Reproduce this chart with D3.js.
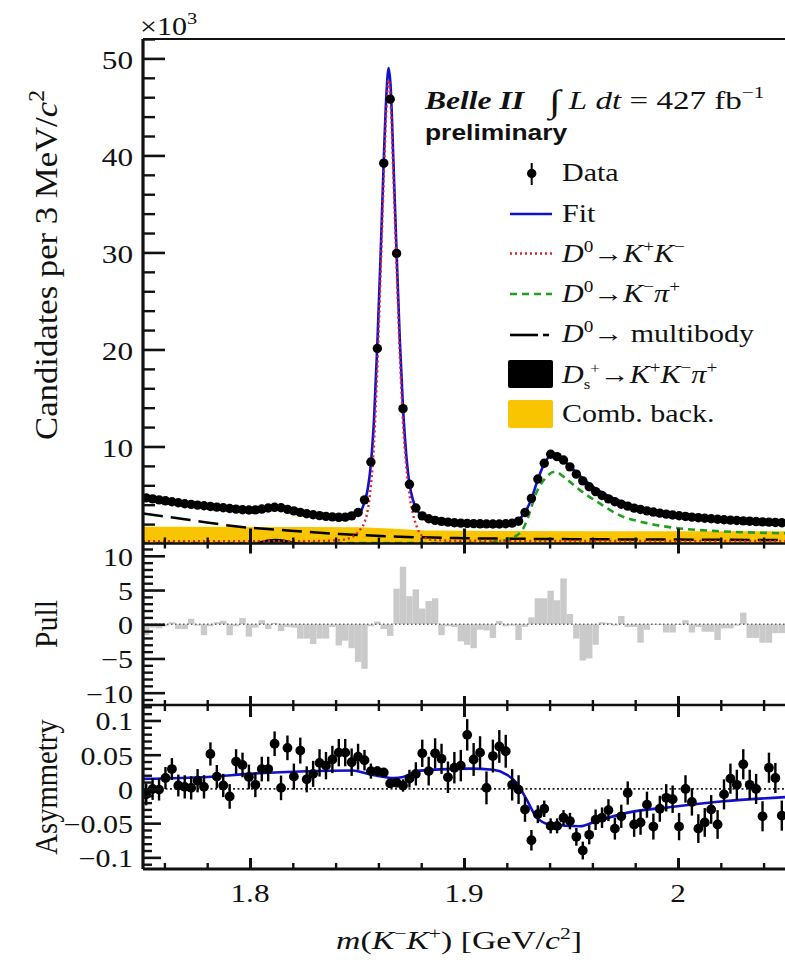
<!DOCTYPE html>
<html><head><meta charset="utf-8">
<script src="https://cdn.jsdelivr.net/npm/d3@7/dist/d3.min.js"></script>
<style>html,body{margin:0;padding:0;background:#fff;}svg{display:block;}</style>
</head><body>
<svg id="chart" width="785" height="965"></svg>
<script>
// ================= DATA =================
// histogram bin centres, m(K-K+) [GeV/c^2], 3 MeV bins
const binCenters = [
1.7515,1.7545,1.7575,1.7605,1.7635,1.7665,1.7695,1.7725,1.7755,1.7785,
1.7815,1.7845,1.7875,1.7905,1.7935,1.7965,1.7995,1.8025,1.8055,1.8085,
1.8115,1.8145,1.8175,1.8205,1.8235,1.8265,1.8295,1.8325,1.8355,1.8385,
1.8415,1.8445,1.8475,1.8505,1.8535,1.8565,1.8595,1.8625,1.8655,1.8685,
1.8715,1.8745,1.8775,1.8805,1.8835,1.8865,1.8895,1.8925,1.8955,1.8985,
1.9015,1.9045,1.9075,1.9105,1.9135,1.9165,1.9195,1.9225,1.9255,1.9285,
1.9315,1.9345,1.9375,1.9405,1.9435,1.9465,1.9495,1.9525,1.9555,1.9585,
1.9615,1.9645,1.9675,1.9705,1.9735,1.9765,1.9795,1.9825,1.9855,1.9885,
1.9915,1.9945,1.9975,2.0005,2.0035,2.0065,2.0095,2.0125,2.0155,2.0185,
2.0215,2.0245,2.0275,2.0305,2.0335,2.0365,2.0395,2.0425,2.0455,2.0485];
const binWidth = 0.003;

// candidates per bin (x10^3)
const candidates = [
4.7,4.6,4.5,4.4,4.3,4.2,4.1,4.03,3.96,3.89,
3.82,3.75,3.68,3.61,3.54,3.48,3.45,3.47,3.55,3.66,
3.73,3.68,3.52,3.36,3.21,3.07,2.96,2.87,2.8,2.74,
2.7,2.72,2.85,3.2,4.5,8.4,20.1,39.2,45.8,29.9,
13.9,6.1,3.66,2.85,2.55,2.38,2.28,2.2,2.14,2.1,
2.07,2.05,2.03,2.02,2.01,2.01,2.04,2.1,2.3,3.2,
4.65,6.65,8.27,9.2,8.95,8.6,7.9,7.15,6.45,5.85,
5.35,4.95,4.6,4.3,4.05,3.85,3.65,3.5,3.36,3.24,
3.13,3.03,2.94,2.86,2.79,2.72,2.66,2.6,2.55,2.5,
2.45,2.41,2.37,2.33,2.3,2.26,2.23,2.2,2.17,2.14];

// pull per bin
const pulls = [
-1.6,-0.5,-0.6,-0.3,0.3,-0.7,-0.7,0.8,-0.2,-1.6,
-0.3,0.3,0.5,-1.6,-0.3,0.9,-1.8,-0.5,0.6,-0.7,
0.2,-1.0,-0.4,-0.5,-2.1,-2.1,-2.9,-2.1,-2.1,-0.4,
-3.1,-2.4,-3.5,-5.5,-6.5,-0.3,0.4,-0.7,-1.7,5.2,
8.4,4.1,5.1,2.3,3.4,3.8,-1.6,-0.3,-0.4,-2.5,
-3.0,-3.5,-0.8,-0.9,-2.0,0.5,-0.3,-0.2,-2.3,-0.4,
1.0,3.8,3.8,4.9,3.5,6.7,1.5,-2.1,-5.3,-5.0,
-3.0,0.3,0.2,-0.2,1.2,-0.4,-0.4,-2.7,-0.8,-0.1,
-0.1,-1.2,-1.2,-0.1,0.6,-1.2,-0.4,-1.1,-1.1,-2.3,
-0.6,-0.6,-0.2,1.7,-2.0,-2.0,-2.7,-2.7,-1.3,-1.3];

// asymmetry per bin and its uncertainty
const asymmetry = [
-0.008,0.0,-0.001,0.016,0.029,0.005,0.003,0.0015,0.012,0.003,
0.051,0.018,0.005,-0.011,0.040,0.035,0.0175,0.006,0.029,0.029,
0.066,0.0015,0.060,0.018,0.056,0.014,0.022,0.038,0.034,0.043,
0.053,0.053,0.039,0.047,0.042,0.026,0.026,0.024,0.008,0.009,
0.005,0.015,0.022,0.052,0.026,0.052,0.044,0.017,0.031,0.034,
0.079,0.043,0.053,0.0015,0.048,0.062,0.055,0.006,-0.001,-0.030,
-0.075,-0.037,-0.029,-0.054,-0.054,-0.042,-0.047,-0.070,-0.090,-0.067,
-0.045,-0.042,-0.031,-0.058,-0.040,-0.006,-0.052,-0.049,-0.023,-0.055,
-0.029,-0.013,-0.015,-0.055,0.0,-0.019,-0.058,-0.049,-0.030,-0.052,
-0.008,0.015,0.006,0.036,0.006,0.0,-0.040,0.031,0.016,-0.039];
const asymmetryErr = [
0.016,0.016,0.016,0.016,0.016,0.016,0.017,0.017,0.017,0.017,
0.017,0.017,0.017,0.018,0.018,0.018,0.018,0.018,0.018,0.018,
0.018,0.018,0.018,0.019,0.019,0.019,0.019,0.02,0.02,0.02,
0.02,0.02,0.02,0.019,0.015,0.011,0.007,0.006,0.005,0.006,
0.009,0.013,0.017,0.02,0.021,0.022,0.022,0.023,0.023,0.023,
0.023,0.024,0.024,0.024,0.024,0.024,0.024,0.023,0.021,0.018,
0.015,0.013,0.012,0.011,0.011,0.011,0.012,0.013,0.013,0.014,
0.015,0.015,0.016,0.016,0.017,0.017,0.018,0.018,0.019,0.019,
0.019,0.02,0.02,0.02,0.02,0.02,0.021,0.021,0.021,0.021,
0.022,0.022,0.022,0.022,0.022,0.022,0.022,0.022,0.022,0.022];

// fit components (mass samples, value x10^3)
const fitMass = [1.750,1.760,1.770,1.780,1.790,1.800,1.805,1.810,1.8135,1.818,1.825,1.832,1.840,1.846,1.850,1.852,1.8535,1.855,1.8565,1.858,1.8595,1.861,1.8625,1.8638,1.8648,1.8658,1.867,1.8685,1.870,1.8715,1.873,1.8745,1.876,1.8775,1.879,1.882,1.886,1.890,1.895,1.900,1.910,1.918,1.922,1.925,1.9285,1.9315,1.9345,1.9375,1.9405,1.9435,1.9465,1.950,1.955,1.960,1.965,1.970,1.975,1.980,1.990,2.000,2.010,2.020,2.030,2.040,2.050];
const fitTotal = [4.75,4.45,4.18,3.93,3.7,3.5,3.47,3.62,3.68,3.55,3.15,2.9,2.75,2.78,3.0,3.4,4.3,5.6,8.2,13,20.5,29.5,39.5,46.5,49,46.8,39.5,30,21,14,9.2,6.2,4.6,3.7,3.15,2.7,2.45,2.3,2.18,2.1,2.02,2.02,2.15,2.4,3.2,4.6,6.6,8.2,9.05,8.95,8.55,7.85,6.8,5.9,5.2,4.65,4.2,3.85,3.3,2.95,2.7,2.52,2.38,2.25,2.14];

const kkMass = [1.750,1.830,1.842,1.848,1.851,1.8535,1.855,1.8565,1.858,1.8595,1.861,1.8625,1.8638,1.8648,1.8658,1.867,1.8685,1.870,1.8715,1.873,1.8745,1.876,1.8775,1.879,1.881,1.885,1.895,2.050];
const kkSignal = [0.25,0.25,0.35,0.7,1.3,2.2,3.4,6.0,10.5,18,27.5,37.5,45,47.8,45.2,37.8,28.5,19.5,12.5,8.0,5.0,3.2,2.0,1.2,0.7,0.4,0.28,0.25];

const kpiMass = [1.750,1.905,1.915,1.9182,1.9238,1.9285,1.931,1.9332,1.9379,1.9425,1.948,1.9542,1.9636,1.9729,1.9854,2.0009,2.0164,2.0321,2.050];
const kpiComp = [0.05,0.05,0.2,0.3,0.7,1.9,3.4,4.9,6.7,7.4,6.6,5.5,4.1,2.9,2.1,1.55,1.3,1.15,1.05];

const multiMass = [1.750,1.772,1.795,1.819,1.842,1.870,1.900,1.950,2.000,2.050];
const multiComp = [3.1,2.42,1.73,1.32,0.98,0.7,0.55,0.45,0.4,0.35];

const dsMass = [1.750,1.798,1.803,1.808,1.812,1.816,1.821,1.826,2.050];
const dsComp = [0,0,0.15,0.4,0.5,0.4,0.15,0,0];

const combMass = [1.750,1.800,1.850,1.870,1.885,1.920,2.000,2.050];
const combComp = [1.73,1.71,1.68,1.5,1.33,1.3,1.27,1.26];

// asymmetry fit
const asymFitMass = [1.750,1.780,1.8016,1.8265,1.848,1.8545,1.8607,1.867,1.8716,1.8779,1.8888,1.9028,1.9137,1.9199,1.9246,1.9293,1.934,1.9402,1.9542,1.962,1.976,1.9978,2.0212,2.050];
const asymFit = [0.0146,0.0175,0.0224,0.0258,0.0268,0.0224,0.0185,0.016,0.0175,0.026,0.0285,0.0297,0.028,0.021,0.0088,-0.0156,-0.042,-0.052,-0.0545,-0.047,-0.035,-0.026,-0.018,-0.012];

// ticks
const xTickValues = [1.8, 1.9, 2.0];
const xTickLabels = ['1.8', '1.9', '2'];
const xMinorTicks = [1.76,1.78,1.82,1.84,1.86,1.88,1.92,1.94,1.96,1.98,2.02,2.04];
const topTickValues = [10, 20, 30, 40, 50];
const topTickLabels = ['10', '20', '30', '40', '50'];
const topMinorTicks = [2,4,6,8,12,14,16,18,22,24,26,28,32,34,36,38,42,44,46,48,52];
const pullTickValues = [-10, -5, 0, 5, 10];
const pullTickLabels = ['\u221210', '\u22125', '0', '5', '10'];
const pullMinorTicks = [-11,-9,-8,-7,-6,-4,-3,-2,-1,1,2,3,4,6,7,8,9,11];
const asymTickValues = [-0.1, -0.05, 0, 0.05, 0.1];
const asymTickLabels = ['\u22120.1', '\u22120.05', '0', '0.05', '0.1'];
const asymMinorTicks = [-0.11,-0.09,-0.08,-0.07,-0.06,-0.04,-0.03,-0.02,-0.01,0.01,0.02,0.03,0.04,0.06,0.07,0.08,0.09,0.11,0.12];

// ================= DRAWING =================
const SERIF = "'Liberation Serif','Times New Roman',serif";
const SANS = "'Liberation Sans',Arial,sans-serif";
const INK = '#111';
const svg = d3.select('#chart');

const xL = 143, xR = 785;
const x = d3.scaleLinear().domain([1.75, 2.05]).range([xL, xR]);
const yTop = d3.scaleLinear().domain([0, 52]).range([543.5, 39]);
const yPull = d3.scaleLinear().domain([-11.8, 11.8]).range([705, 543.5]);
const yAsym = d3.scaleLinear().domain([-0.117, 0.1226]).range([869, 705]);

const defs = svg.append('defs');
function clip(id, y0, y1) {
  defs.append('clipPath').attr('id', id).append('rect')
    .attr('x', xL).attr('y', y0).attr('width', xR - xL).attr('height', y1 - y0);
}
clip('cTop', yTop(52), yTop(0));
clip('cPull', yPull(11.8), yPull(-11.8));
clip('cAsym', yAsym(0.1226), yAsym(-0.117));

const zip = (a, b) => a.map((m, i) => [m, b[i]]);

// ---------- top panel ----------
const gTop = svg.append('g').attr('clip-path', 'url(#cTop)');
const area = d3.area().x(d => x(d[0])).y0(yTop(0)).y1(d => yTop(d[1])).curve(d3.curveMonotoneX);
const lineTop = d3.line().x(d => x(d[0])).y(d => yTop(d[1])).curve(d3.curveMonotoneX);

gTop.append('path').datum(zip(combMass, combComp)).attr('d', area).attr('fill', '#f8c500');
gTop.append('path').datum(zip(dsMass, dsComp)).attr('d', area).attr('fill', '#000');
gTop.append('path').datum(zip(multiMass, multiComp)).attr('d', lineTop)
  .attr('fill', 'none').attr('stroke', '#000').attr('stroke-width', 2.5).attr('stroke-dasharray', '20,8');
gTop.append('path').datum(zip(fitMass, fitTotal)).attr('d', lineTop)
  .attr('fill', 'none').attr('stroke', '#1010d0').attr('stroke-width', 2.6);
gTop.append('path').datum(zip(kpiMass, kpiComp)).attr('d', lineTop)
  .attr('fill', 'none').attr('stroke', '#1f9e1f').attr('stroke-width', 2.6).attr('stroke-dasharray', '7,5');
gTop.append('path').datum(zip(kkMass, kkSignal)).attr('d', lineTop)
  .attr('fill', 'none').attr('stroke', '#e0202a').attr('stroke-width', 2.4).attr('stroke-dasharray', '2,3');
gTop.append('g').selectAll('circle').data(zip(binCenters, candidates)).join('circle')
  .attr('cx', d => x(d[0])).attr('cy', d => yTop(d[1])).attr('r', 4.7).attr('fill', '#000');

// ---------- pull panel ----------
const gPull = svg.append('g').attr('clip-path', 'url(#cPull)');
gPull.selectAll('rect').data(zip(binCenters, pulls)).join('rect')
  .attr('x', d => x(d[0] - binWidth / 2))
  .attr('width', d => x(d[0] + binWidth / 2) - x(d[0] - binWidth / 2))
  .attr('y', d => Math.min(yPull(0), yPull(d[1])))
  .attr('height', d => Math.abs(yPull(d[1]) - yPull(0)))
  .attr('fill', '#cacaca');
gPull.append('line').attr('x1', xL).attr('x2', xR).attr('y1', yPull(0)).attr('y2', yPull(0))
  .attr('stroke', '#666').attr('stroke-width', 1.6).attr('stroke-dasharray', '1.5,2.5');

// ---------- asymmetry panel ----------
const gAsym = svg.append('g').attr('clip-path', 'url(#cAsym)');
gAsym.append('line').attr('x1', xL).attr('x2', xR).attr('y1', yAsym(0)).attr('y2', yAsym(0))
  .attr('stroke', '#222').attr('stroke-width', 1.8).attr('stroke-dasharray', '2,2.5');
gAsym.append('path').datum(zip(asymFitMass, asymFit))
  .attr('d', d3.line().x(d => x(d[0])).y(d => yAsym(d[1])).curve(d3.curveMonotoneX))
  .attr('fill', 'none').attr('stroke', '#1010d0').attr('stroke-width', 2.6);
const asymPts = binCenters.map((m, i) => ({ m, v: asymmetry[i], e: asymmetryErr[i] }));
gAsym.append('g').selectAll('line').data(asymPts).join('line')
  .attr('x1', d => x(d.m)).attr('x2', d => x(d.m))
  .attr('y1', d => yAsym(d.v - d.e)).attr('y2', d => yAsym(d.v + d.e))
  .attr('stroke', '#000').attr('stroke-width', 2.4);
gAsym.append('g').selectAll('circle').data(asymPts).join('circle')
  .attr('cx', d => x(d.m)).attr('cy', d => yAsym(d.v)).attr('r', 4.9).attr('fill', '#000');

// ---------- axes / ticks ----------
function tickSet(axisFn, scale, values, size, tx, ty, sw) {
  svg.append('g').attr('transform', `translate(${tx},${ty})`)
    .call(axisFn(scale).tickValues(values).tickSize(size).tickFormat(''))
    .call(g => g.select('.domain').remove())
    .call(g => g.selectAll('line').attr('stroke', INK).attr('stroke-width', sw));
}
// left axes
tickSet(d3.axisLeft, yTop, topTickValues, -22, xL, 0, 2.6);
tickSet(d3.axisLeft, yTop, topMinorTicks, -12, xL, 0, 2.4);
tickSet(d3.axisLeft, yPull, pullTickValues, -22, xL, 0, 2.6);
tickSet(d3.axisLeft, yPull, pullMinorTicks, -10, xL, 0, 2.4);
tickSet(d3.axisLeft, yAsym, asymTickValues, -18, xL, 0, 2.6);
tickSet(d3.axisLeft, yAsym, asymMinorTicks, -9, xL, 0, 2.4);
// horizontal axes
tickSet(d3.axisBottom, x, xTickValues, -15, 0, yTop(0), 3);
tickSet(d3.axisBottom, x, xMinorTicks, -6, 0, yTop(0), 2.4);
tickSet(d3.axisTop, x, xTickValues, -10, 0, yPull(11.8), 3);
tickSet(d3.axisTop, x, xMinorTicks, -5, 0, yPull(11.8), 2.4);
tickSet(d3.axisBottom, x, xTickValues, -9, 0, yPull(-11.8), 3);
tickSet(d3.axisBottom, x, xMinorTicks, -5, 0, yPull(-11.8), 2.4);
tickSet(d3.axisTop, x, xTickValues, -12, 0, yAsym(0.1226), 3);
tickSet(d3.axisTop, x, xMinorTicks, -6, 0, yAsym(0.1226), 2.4);
tickSet(d3.axisBottom, x, xTickValues, -11, 0, yAsym(-0.117), 3);
tickSet(d3.axisBottom, x, xMinorTicks, -6, 0, yAsym(-0.117), 2.4);

// frames
const frame = svg.append('g').attr('stroke', INK).attr('fill', 'none');
frame.append('line').attr('x1', xL).attr('x2', xR).attr('y1', yTop(52)).attr('y2', yTop(52)).attr('stroke-width', 2.2);
frame.append('line').attr('x1', xL).attr('x2', xR).attr('y1', yTop(0)).attr('y2', yTop(0)).attr('stroke-width', 2.6);
frame.append('line').attr('x1', xL).attr('x2', xR).attr('y1', yPull(-11.8)).attr('y2', yPull(-11.8)).attr('stroke-width', 2.6);
frame.append('line').attr('x1', xL).attr('x2', xR).attr('y1', yAsym(-0.117)).attr('y2', yAsym(-0.117)).attr('stroke-width', 3);
frame.append('line').attr('x1', xL).attr('x2', xL).attr('y1', yTop(52)).attr('y2', yAsym(-0.117)).attr('stroke-width', 3.2);

// ---------- text helper ----------
function label(parent, o, build) {
  const t = parent.append('text')
    .attr('font-family', o.family || SERIF).attr('font-size', o.size || 25)
    .attr('text-anchor', o.anchor || 'start').attr('fill', INK);
  if (o.weight) t.attr('font-weight', o.weight);
  if (o.style) t.attr('font-style', o.style);
  if (o.dy) t.attr('dy', o.dy);
  build(t);
  let s = o.sx || 1.2;
  if (o.fitTo) s = o.fitTo / t.node().getBBox().width;
  t.attr('transform', `translate(${o.x},${o.y}) rotate(${o.rot || 0}) scale(${s},${o.sy || 1})`);
  return t;
}
const T = (t, s, opt = {}) => {
  const sp = t.append('tspan').text(s);
  Object.entries(opt).forEach(([k, v]) => sp.attr(k, v));
  return sp;
};

// tick labels
topTickValues.forEach((v, i) => label(svg, { x: 133, y: yTop(v), anchor: 'end', dy: '0.42em', size: 26 }, t => T(t, topTickLabels[i])));
pullTickValues.forEach((v, i) => label(svg, { x: 133, y: yPull(v), anchor: 'end', dy: '0.4em', size: 25 }, t => T(t, pullTickLabels[i])));
asymTickValues.forEach((v, i) => label(svg, { x: 133, y: yAsym(v), anchor: 'end', dy: '0.4em', size: 25 }, t => T(t, asymTickLabels[i])));
xTickValues.forEach((v, i) => label(svg, { x: x(v), y: 902, anchor: 'middle', size: 26 }, t => T(t, xTickLabels[i])));

// x10^3
label(svg, { x: 140, y: 35, size: 25 }, t => { T(t, '\u00d710'); T(t, '3', { 'font-size': 17, dy: -11 }); });

// axis titles
label(svg, { x: 57, y: 265, rot: -90, anchor: 'middle', size: 25, fitTo: 350, sy: 1.3 }, t => {
  T(t, 'Candidates per 3 MeV/'); T(t, 'c', { 'font-style': 'italic' }); T(t, '2', { 'font-size': 17, dy: -10 });
});
label(svg, { x: 57, y: 624, rot: -90, anchor: 'middle', size: 25, fitTo: 48, sy: 1.3 }, t => T(t, 'Pull'));
label(svg, { x: 57, y: 787, rot: -90, anchor: 'middle', size: 25, fitTo: 136, sy: 1.3 }, t => T(t, 'Asymmetry'));
label(svg, { x: 459, y: 949, anchor: 'middle', size: 25, fitTo: 246, sy: 1.05 }, t => {
  T(t, 'm', { 'font-style': 'italic' }); T(t, '('); T(t, 'K', { 'font-style': 'italic' });
  T(t, '\u2212', { 'font-size': 16, dy: -10 }); T(t, 'K', { 'font-style': 'italic', dy: 10 });
  T(t, '+', { 'font-size': 16, dy: -10 }); T(t, ') [GeV/', { dy: 10 });
  T(t, 'c', { 'font-style': 'italic' }); T(t, '2', { 'font-size': 16, dy: -10 }); T(t, ']', { dy: 10 });
});

// header
label(svg, { x: 425, y: 109, size: 25, weight: 'bold', style: 'italic', fitTo: 102 }, t => T(t, 'Belle II'));
label(svg, { x: 549, y: 109, size: 25, fitTo: 218 }, t => {
  T(t, '\u222b', { 'font-size': 32, dy: 3 }); T(t, ' ', { dy: -3 }); T(t, 'L', { 'font-style': 'italic' }); T(t, ' ');
  T(t, 'dt', { 'font-style': 'italic' }); T(t, ' = 427 fb'); T(t, '\u22121', { 'font-size': 16, dy: -11 });
});
label(svg, { x: 425, y: 140, size: 22, family: SANS, weight: 'bold' }, t => T(t, 'preliminary'));

// ---------- legend ----------
const lg = svg.append('g');
const lx0 = 510, lx1 = 552, tx = 562;
// Data
lg.append('line').attr('x1', 531.7).attr('x2', 531.7).attr('y1', 163).attr('y2', 185).attr('stroke', '#000').attr('stroke-width', 2);
lg.append('circle').attr('cx', 531.7).attr('cy', 173.5).attr('r', 4.7).attr('fill', '#000');
label(lg, { x: tx, y: 181, size: 25 }, t => T(t, 'Data'));
// Fit
lg.append('line').attr('x1', lx0).attr('x2', lx1).attr('y1', 214).attr('y2', 214).attr('stroke', '#1010d0').attr('stroke-width', 2.6);
label(lg, { x: tx, y: 222, size: 25 }, t => T(t, 'Fit'));
// KK
lg.append('line').attr('x1', lx0).attr('x2', lx1).attr('y1', 253.5).attr('y2', 253.5).attr('stroke', '#e0202a').attr('stroke-width', 2.4).attr('stroke-dasharray', '2,3');
label(lg, { x: tx, y: 262, size: 25 }, t => {
  T(t, 'D', { 'font-style': 'italic' }); T(t, '0', { 'font-size': 16, dy: -10 }); T(t, '\u2192', { dy: 10 });
  T(t, 'K', { 'font-style': 'italic' }); T(t, '+', { 'font-size': 16, dy: -10 });
  T(t, 'K', { 'font-style': 'italic', dy: 10 }); T(t, '\u2212', { 'font-size': 16, dy: -10 });
});
// Kpi
lg.append('line').attr('x1', lx0).attr('x2', lx1).attr('y1', 294).attr('y2', 294).attr('stroke', '#1f9e1f').attr('stroke-width', 2.6).attr('stroke-dasharray', '7,5');
label(lg, { x: tx, y: 302, size: 25 }, t => {
  T(t, 'D', { 'font-style': 'italic' }); T(t, '0', { 'font-size': 16, dy: -10 }); T(t, '\u2192', { dy: 10 });
  T(t, 'K', { 'font-style': 'italic' }); T(t, '\u2212', { 'font-size': 16, dy: -10 });
  T(t, '\u03c0', { 'font-style': 'italic', dy: 10 }); T(t, '+', { 'font-size': 16, dy: -10 });
});
// multibody
lg.append('line').attr('x1', lx0).attr('x2', 538).attr('y1', 335).attr('y2', 335).attr('stroke', '#000').attr('stroke-width', 2.6);
lg.append('line').attr('x1', 543).attr('x2', 549).attr('y1', 335).attr('y2', 335).attr('stroke', '#000').attr('stroke-width', 2.6);
label(lg, { x: tx, y: 342, size: 25 }, t => {
  T(t, 'D', { 'font-style': 'italic' }); T(t, '0', { 'font-size': 16, dy: -10 }); T(t, '\u2192 multibody', { dy: 10 });
});
// Ds
lg.append('rect').attr('x', 508).attr('y', 360).attr('width', 45).attr('height', 28).attr('rx', 2).attr('fill', '#000');
label(lg, { x: tx, y: 383, size: 25 }, t => {
  T(t, 'D', { 'font-style': 'italic' }); T(t, 's', { 'font-size': 14, dy: 6 });
  T(t, '+', { 'font-size': 14, dy: -16 }); T(t, '\u2192', { dy: 10 });
  T(t, 'K', { 'font-style': 'italic' }); T(t, '+', { 'font-size': 16, dy: -10 });
  T(t, 'K', { 'font-style': 'italic', dy: 10 }); T(t, '\u2212', { 'font-size': 16, dy: -10 });
  T(t, '\u03c0', { 'font-style': 'italic', dy: 10 }); T(t, '+', { 'font-size': 16, dy: -10 });
});
// Comb
lg.append('rect').attr('x', 508).attr('y', 400).attr('width', 45).attr('height', 28).attr('rx', 2).attr('fill', '#f8c500');
label(lg, { x: tx, y: 422, size: 25 }, t => T(t, 'Comb. back.'));
</script>
</body></html>
